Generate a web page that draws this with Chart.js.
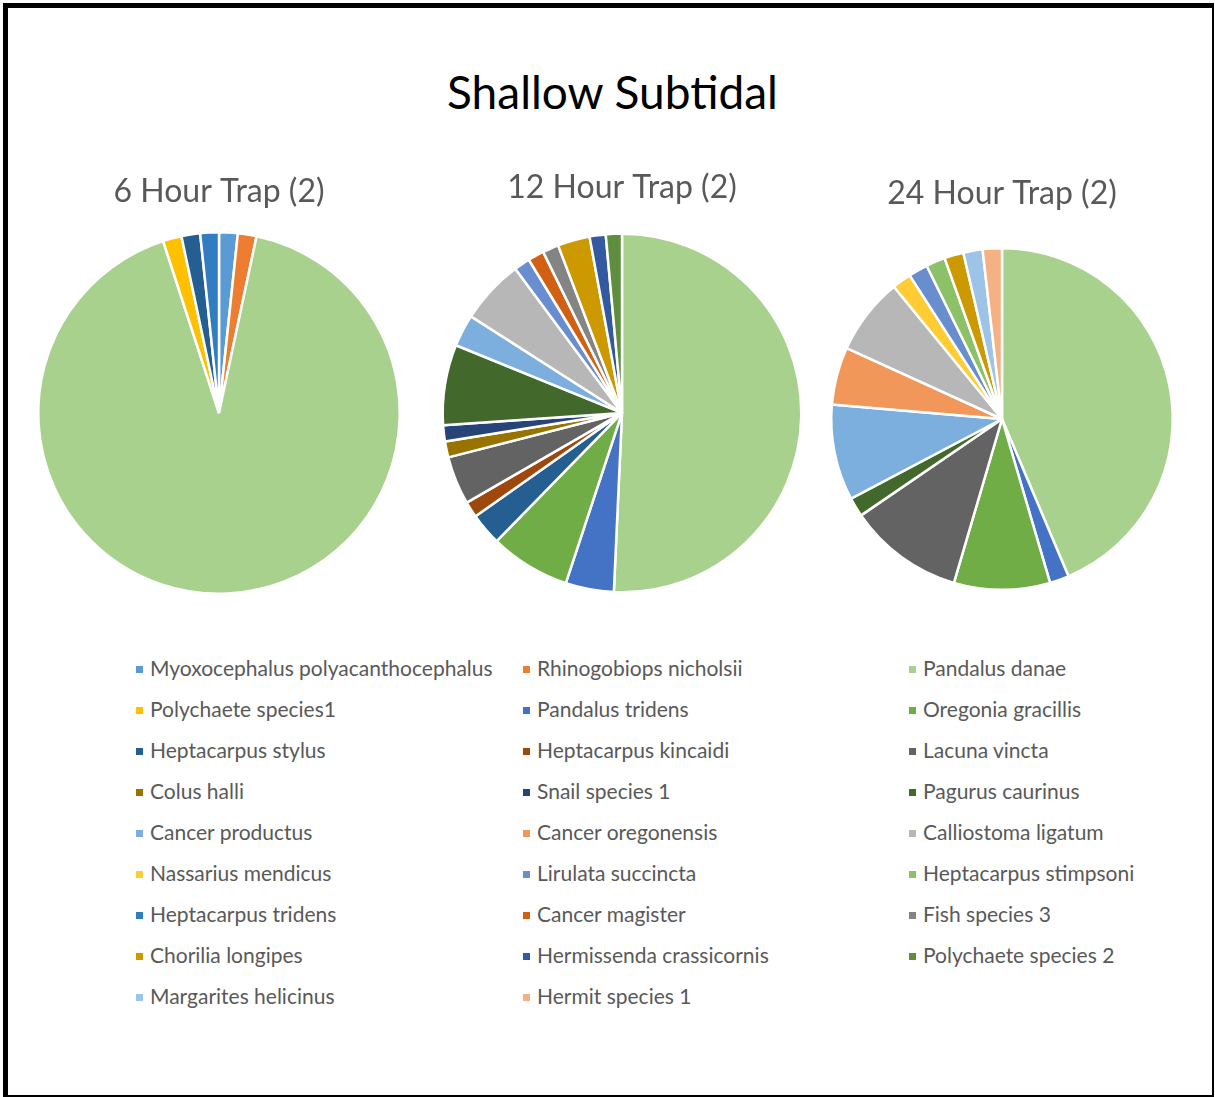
<!DOCTYPE html>
<html>
<head>
<meta charset="utf-8">
<script src="https://cdn.jsdelivr.net/npm/chart.js@4/dist/chart.umd.min.js"></script>
<style>
  body { margin: 0; background: #fff; font-family: Lato, sans-serif; }
  #frame {
    position: absolute; left: 3px; top: 3px; width: 1204px; height: 1087px;
    border-left: 5px solid #000; border-top: 5px solid #000;
    border-right: 2px solid #000; border-bottom: 2px solid #000;
  }
  #mainTitle {
    position: absolute; left: 0; width: 1225px; top: 64px;
    text-align: center; font-size: 46px; color: #000;
  }
  .pie { position: absolute; top: 160px; width: 380px; height: 460px; }
  .legItem { position: absolute; font-size: 21px; color: #595959; line-height: 24px; white-space: nowrap; }
  .legItem span { display: inline-block; width: 7px; height: 7px; margin-right: 7px; vertical-align: middle; position: relative; top: -1px; }
</style>
</head>
<body>
<div id="frame"></div>
<div id="mainTitle">Shallow Subtidal</div>
<div class="pie" style="left:29px"><canvas id="pie6"></canvas></div>
<div class="pie" style="left:432px"><canvas id="pie12"></canvas></div>
<div class="pie" style="left:812px"><canvas id="pie24"></canvas></div>
<div id="legend"></div>
<script>
// species, in the order the slices run (clockwise from 12 o'clock)
const species = [
  'Myoxocephalus polyacanthocephalus', 'Rhinogobiops nicholsii', 'Pandalus danae',
  'Polychaete species1', 'Pandalus tridens', 'Oregonia gracillis',
  'Heptacarpus stylus', 'Heptacarpus kincaidi', 'Lacuna vincta',
  'Colus halli', 'Snail species 1', 'Pagurus caurinus',
  'Cancer productus', 'Cancer oregonensis', 'Calliostoma ligatum',
  'Nassarius mendicus', 'Lirulata succincta', 'Heptacarpus stimpsoni',
  'Heptacarpus tridens', 'Cancer magister', 'Fish species 3',
  'Chorilia longipes', 'Hermissenda crassicornis', 'Polychaete species 2',
  'Margarites helicinus', 'Hermit species 1'
];

const colors = [
  '#5B9BD5', '#ED7D31', '#A9D18E',
  '#FFC000', '#4472C4', '#70AD47',
  '#255E91', '#9E480E', '#636363',
  '#997300', '#264478', '#43682B',
  '#7CAFDD', '#F1975A', '#B7B7B7',
  '#FFCD33', '#698ED0', '#8CC168',
  '#327DC2', '#D26012', '#848484',
  '#CC9A00', '#335AA1', '#5E8E3E',
  '#9DC3E6', '#F4B183'
];

// counts per trap, same order as species
const trap6 = [1, 1, 55, 1, 0, 0, 1, 0, 0, 0, 0, 0, 0, 0, 0, 0, 0, 0, 1, 0, 0, 0, 0, 0, 0, 0];
const trap12 = [0, 0, 35, 0, 3, 5, 2, 1, 3, 1, 1, 5, 2, 0, 4, 0, 1, 0, 0, 1, 1, 2, 1, 1, 0, 0];
const trap24 = [0, 0, 24, 0, 1, 5, 0, 0, 6, 0, 0, 1, 5, 3, 4, 1, 1, 1, 0, 0, 0, 1, 0, 0, 1, 1];

const trapTitles = ['6 Hour Trap (2)', '12 Hour Trap (2)', '24 Hour Trap (2)'];

function makePie(id, values, title, padTop, padBelow, padBottom) {
  const ctx = document.getElementById(id).getContext('2d');
  return new Chart(ctx, {
    type: 'pie',
    data: {
      labels: species,
      datasets: [{
        data: values,
        backgroundColor: colors,
        borderColor: '#ffffff',
        borderWidth: 2.5,
        hoverOffset: 0
      }]
    },
    options: {
      responsive: true,
      maintainAspectRatio: false,
      animation: false,
      layout: { padding: { bottom: padBottom } },
      plugins: {
        legend: { display: false },
        tooltip: { enabled: false },
        title: {
          display: true,
          text: title,
          color: '#595959',
          font: { family: 'Lato', size: 32, weight: 'normal' },
          padding: { top: padTop, bottom: padBelow }
        }
      }
    }
  });
}

makePie('pie6', trap6, trapTitles[0], 12, 20.6, 25);
makePie('pie12', trap12, trapTitles[1], 8, 26, 26.5);
makePie('pie24', trap24, trapTitles[2], 14, 34.6, 29);

// shared legend, three columns, row by row
const legendCols = [136, 523, 909];
const legendTop = 668;
const legendRowGap = 41;
const legend = document.getElementById('legend');
species.forEach(function(name, i) {
  const item = document.createElement('div');
  item.className = 'legItem';
  item.style.left = legendCols[i % 3] + 'px';
  item.style.top = (legendTop + Math.floor(i / 3) * legendRowGap - 12) + 'px';
  const box = document.createElement('span');
  box.style.background = colors[i];
  item.appendChild(box);
  item.appendChild(document.createTextNode(name));
  legend.appendChild(item);
});
</script>
</body>
</html>
